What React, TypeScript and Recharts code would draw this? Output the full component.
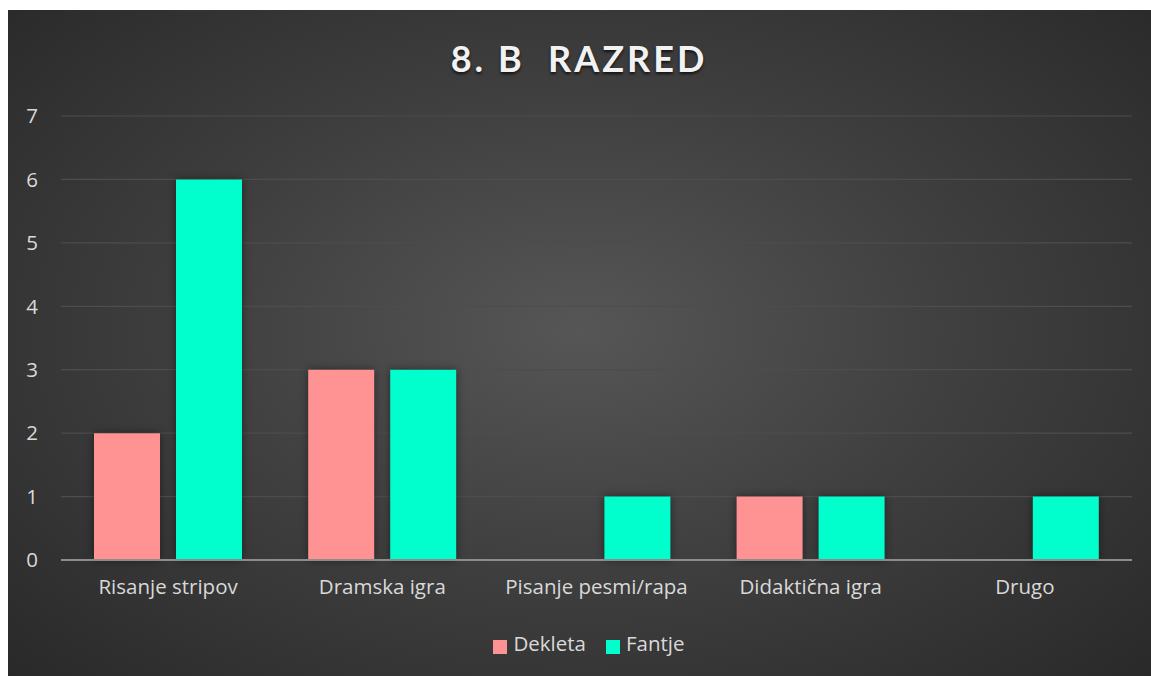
import { BarChart, Bar, XAxis, YAxis, CartesianGrid, Legend } from "recharts"

const categories = ["Risanje stripov", "Dramska igra", "Pisanje pesmi/rapa", "Didaktična igra", "Drugo"]
const dekleta = [2, 3, 0, 1, 0]
const fantje = [6, 3, 1, 1, 1]
const yTicks = [0, 1, 2, 3, 4, 5, 6, 7]

const LABELS: Record<string, string> = {
  dekleta: "Dekleta",
  fantje: "Fantje",
}

const data = categories.map((name, i) => ({ name, dekleta: dekleta[i], fantje: fantje[i] }))

const FONT = "'Open Sans', Lato, sans-serif"
const TEXT = "#d9d9d9"

export default function App() {
  return (
    <div
      style={{
        position: "absolute",
        top: 10,
        left: 8,
        width: 1143,
        height: 666,
        overflow: "hidden",
        background: "radial-gradient(ellipse 75% 80% at 50% 48%, #565656 0%, #3f3f3f 45%, #262626 100%)",
        fontFamily: FONT,
      }}
    >
      <style>{`.recharts-bar-rectangle path { filter: drop-shadow(0 0 4px rgba(0,0,0,0.45)); }
.recharts-legend-item { margin-right: 20px !important; }
.recharts-legend-item svg { margin-right: 6px !important; }`}</style>
      <div
        style={{
          position: "absolute",
          top: 26,
          left: 0,
          width: 1142,
          textAlign: "center",
          color: "#f2f2f2",
          fontSize: 36,
          fontWeight: 700,
          letterSpacing: 3,
          fontFamily: "Lato, sans-serif",
          textShadow: "0 2px 3px rgba(0,0,0,0.7)",
          whiteSpace: "pre",
        }}
      >
        {"8. B  RAZRED"}
      </div>
      <BarChart
        width={1143}
        height={666}
        data={data}
        margin={{ top: 106, right: 19, left: 0, bottom: 66 }}
        barCategoryGap={33}
        barGap={16}
      >
        <CartesianGrid stroke="#4d4d4d" strokeWidth={1.2} vertical={false} />
        <XAxis
          dataKey="name"
          height={50}
          tickSize={0}
          tickMargin={19}
          axisLine={{ stroke: "#8c8c8c", strokeWidth: 2 }}
          tickLine={false}
          tick={{ fill: TEXT, fontSize: 20.5, fontFamily: FONT }}
        />
        <YAxis
          width={53}
          domain={[0, 7]}
          ticks={yTicks}
          interval={0}
          tickSize={0}
          tickMargin={23}
          axisLine={false}
          tickLine={false}
          tick={{ fill: TEXT, fontSize: 20.5, fontFamily: FONT }}
        />
        <Legend
          layout="horizontal"
          verticalAlign="middle"
          align="center"
          iconType="square"
          iconSize={14}
          wrapperStyle={{ top: 619, left: 20, width: 1142 }}
          formatter={(value) => (
            <span style={{ color: TEXT, fontSize: 20.5, fontFamily: FONT }}>{LABELS[value] ?? value}</span>
          )}
        />
        <Bar dataKey="dekleta" name="dekleta" fill="#ff9393" isAnimationActive={false} />
        <Bar dataKey="fantje" name="fantje" fill="#00ffcc" isAnimationActive={false} />
      </BarChart>
    </div>
  )
}
